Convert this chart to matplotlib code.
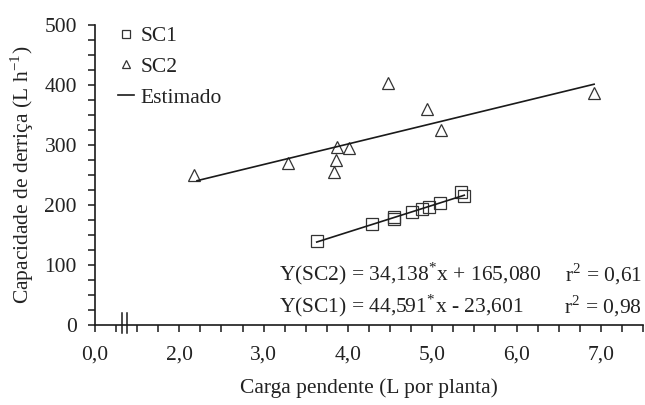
import matplotlib
matplotlib.use("Agg")
import matplotlib.pyplot as plt
import numpy as np
from matplotlib.ticker import MultipleLocator, FixedLocator, FixedFormatter

plt.rcParams['font.family'] = ['Liberation Serif', 'DejaVu Serif']
plt.rcParams['mathtext.fontset'] = 'stix'

# Data (x shifted: the axis is broken; tick "0,0" sits where 1.0 would be)
sc1_x = [3.63, 4.29, 4.55, 4.55, 4.76, 4.88, 4.96, 5.09, 5.34, 5.38]
sc1_y = [140, 168, 176, 180, 189, 194, 196, 204, 221, 215]
sc2_x = [2.17, 3.29, 3.83, 3.86, 3.87, 4.01, 4.48, 4.94, 5.10, 6.92]
sc2_y = [250, 270, 255, 275, 297, 295, 403, 360, 325, 387]
fit1 = (44.591, -23.601)
fit2 = (34.138, 165.080)
xticks = [1.0, 2.0, 3.0, 4.0, 5.0, 6.0, 7.0]
xticklabels = ['0,0', '2,0', '3,0', '4,0', '5,0', '6,0', '7,0']
yticks = [0, 100, 200, 300, 400, 500]

W, H = 645, 405
FS = 15.5
fig = plt.figure(figsize=(W/100, H/100), dpi=100)
ax = fig.add_axes([95/W, 1-325/H, (643-95)/W, 300/H])

txt = '#222222'
mk = '#333333'

ax.plot(sc1_x, sc1_y, ls='none', marker='s', ms=8, mfc='none', mec=mk, mew=0.9, label='SC1', clip_on=False)
ax.plot(sc2_x, sc2_y, ls='none', marker='^', ms=8, mfc='none', mec=mk, mew=0.9, label='SC2', clip_on=False)

x1 = np.array([min(sc1_x), max(sc1_x)])
x2 = np.array([min(sc2_x) + 0.04, max(sc2_x)])
ax.plot(x1, fit1[0]*x1 + fit1[1], color='#1a1a1a', lw=1.2, label='Estimado')
ax.plot(x2, fit2[0]*x2 + fit2[1], color='#1a1a1a', lw=1.2)

ax.set_xlim(1.0, 7.5)
ax.set_ylim(0, 500)
for s in ['top', 'right']:
    ax.spines[s].set_visible(False)
for s in ['left', 'bottom']:
    ax.spines[s].set_linewidth(1.2)
    ax.spines[s].set_color('#1a1a1a')

ax.xaxis.set_major_locator(FixedLocator(xticks))
ax.xaxis.set_major_formatter(FixedFormatter(xticklabels))
ax.xaxis.set_minor_locator(MultipleLocator(0.25))
ax.yaxis.set_major_locator(FixedLocator(yticks))
ax.yaxis.set_minor_locator(MultipleLocator(25))
ax.tick_params(axis='both', which='both', direction='out', length=5, width=1.1,
               color='#1a1a1a', labelcolor=txt, labelsize=FS)
ax.tick_params(axis='x', pad=10)
ax.tick_params(axis='y', pad=8)

# axis break marks
for bx in (1.32, 1.385):
    ax.plot([bx, bx], [-14, 20], color='#1a1a1a', lw=1.1, clip_on=False)

ax.set_xlabel('Carga pendente (L por planta)', fontsize=FS, color=txt)
ax.xaxis.set_label_coords(0.5, -(388-325)/300, transform=ax.transAxes)
ax.xaxis.label.set_va('center')
ax.set_ylabel(r'Capacidade de derriça (L h$^{\mathregular{-1}}$)', fontsize=FS, color=txt)
ax.yaxis.set_label_coords(-(95-22)/548, 0.5)
ax.yaxis.label.set_va('center')

leg = ax.legend(loc='upper left', bbox_to_anchor=(118/W, 1-26/H), bbox_transform=fig.transFigure,
                frameon=False, fontsize=FS, handlelength=0.75, handletextpad=0.3,
                labelspacing=0.5, borderpad=0, borderaxespad=0, markerscale=0.8)
for t in leg.get_texts():
    t.set_color(txt)

fig.text(279/W, 1-274/H, r'Y(SC2) = 34,138$^{\mathregular{*}}$x + 165,080', fontsize=FS, color=txt, va='center')
fig.text(642/W, 1-274/H, r'r$^{\mathregular{2}}$ = 0,61', fontsize=FS, color=txt, va='center', ha='right')
fig.text(279/W, 1-306/H, r'Y(SC1) = 44,591$^{\mathregular{*}}$x - 23,601', fontsize=FS, color=txt, va='center')
fig.text(642/W, 1-306/H, r'r$^{\mathregular{2}}$ = 0,98', fontsize=FS, color=txt, va='center', ha='right')

fig.savefig('out.png', dpi=100)
